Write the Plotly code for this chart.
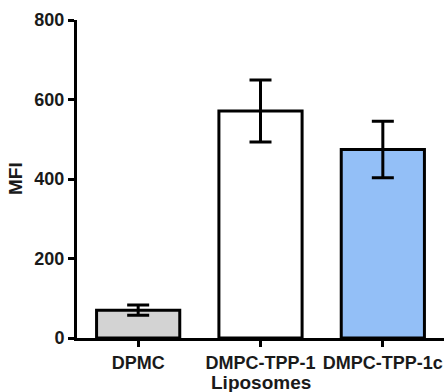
import plotly.graph_objects as go

categories = ["DPMC", "DMPC-TPP-1", "DMPC-TPP-1c"]
mfi_values = [70, 571, 474]
mfi_errors = [13, 78, 71]
bar_colors = ["#d3d3d3", "#ffffff", "#93bff7"]
y_ticks = [0, 200, 400, 600, 800]

font_family = "Liberation Sans, Arial, sans-serif"

fig = go.Figure(
    go.Bar(
        x=categories,
        y=mfi_values,
        width=0.68,
        marker=dict(color=bar_colors, line=dict(color="black", width=3)),
        error_y=dict(type="data", array=mfi_errors, visible=True,
                     color="black", thickness=3, width=11),
    )
)

fig.update_layout(
    width=446, height=392,
    margin=dict(l=77, r=2, t=20, b=54),
    plot_bgcolor="white", paper_bgcolor="white",
    showlegend=False,
    font=dict(family=font_family, color="#1a1a1a"),
    annotations=[
        dict(text="<b>Liposomes</b>", xref="paper", yref="paper", x=0.5, y=0,
             xanchor="center", yanchor="middle", yshift=-44, showarrow=False,
             font=dict(size=19, family=font_family, color="#1a1a1a")),
        dict(text="<b>MFI</b>", xref="paper", yref="paper", x=0, y=0.5,
             xanchor="center", yanchor="middle", xshift=-62, textangle=-90,
             showarrow=False,
             font=dict(size=19, family=font_family, color="#1a1a1a")),
    ],
)

fig.update_xaxes(
    range=[-0.5, 2.5], automargin=False,
    showline=True, linecolor="black", linewidth=3,
    ticks="outside", ticklen=6, tickwidth=3, tickcolor="black",
    tickfont=dict(size=18, family=font_family, weight="bold"),
    showgrid=False, zeroline=False,
)
fig.update_yaxes(
    range=[0, 800], automargin=False,
    tickvals=y_ticks,
    showline=True, linecolor="black", linewidth=3,
    ticks="outside", ticklen=6, tickwidth=3, tickcolor="black",
    tickfont=dict(size=18, family=font_family, weight="bold"),
    showgrid=False, zeroline=False,
)

fig.write_html("out.html", config={"displayModeBar": False},
               post_script="document.body.style.margin='0';")
